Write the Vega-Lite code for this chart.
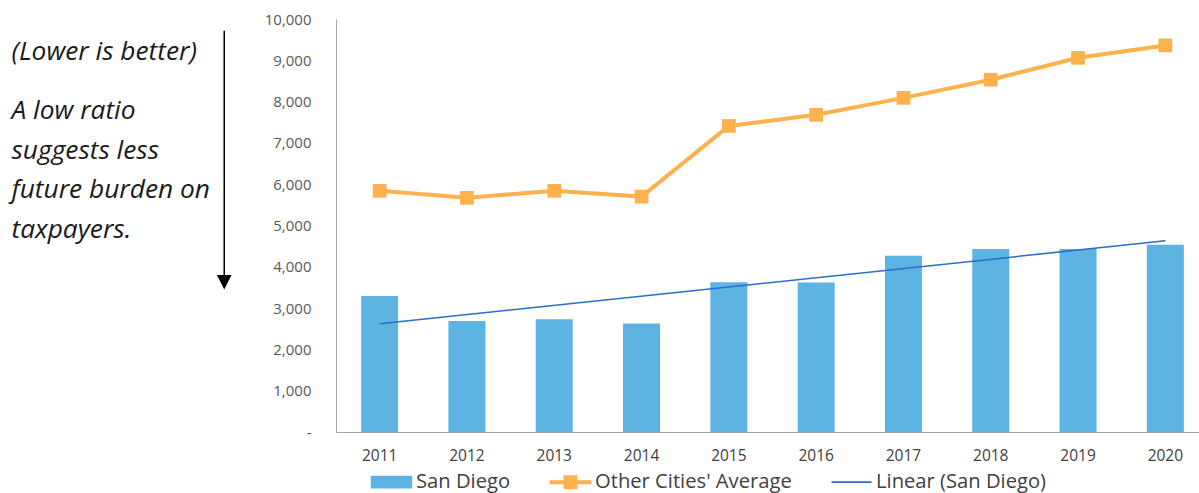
{
  "$schema": "https://vega.github.io/schema/vega-lite/v6.json",
  "autosize": "pad",
  "padding": {"left": 0, "top": 12, "right": 0, "bottom": 0},
  "background": "white",
  "bounds": "flush",
  "spacing": 106,
  "config": {"view": {"stroke": null}, "font": "Open Sans"},
  "datasets": {
    "notes": [
      {"text": "(Lower is better)", "line": 0, "col": 0.05},
      {"text": "A low ratio", "line": 1.5, "col": 0.05},
      {"text": "suggests less", "line": 2.5, "col": 0.05},
      {"text": "future burden on", "line": 3.5, "col": 0.05},
      {"text": "taxpayers.", "line": 4.5, "col": 0.05}
    ],
    "arrow": [{"col": 0.975, "top": -0.742, "bottom": 5.468, "head": 5.628}],
    "ratio": [
      {"Year": 2011, "SanDiego": 3290, "Other": 5840},
      {"Year": 2012, "SanDiego": 2690, "Other": 5670},
      {"Year": 2013, "SanDiego": 2730, "Other": 5840},
      {"Year": 2014, "SanDiego": 2630, "Other": 5700},
      {"Year": 2015, "SanDiego": 3625, "Other": 7410},
      {"Year": 2016, "SanDiego": 3620, "Other": 7680},
      {"Year": 2017, "SanDiego": 4270, "Other": 8090},
      {"Year": 2018, "SanDiego": 4430, "Other": 8530},
      {"Year": 2019, "SanDiego": 4430, "Other": 9060},
      {"Year": 2020, "SanDiego": 4535, "Other": 9360}
    ]
  },
  "hconcat": [
    {
      "width": 230,
      "height": 413,
      "layer": [
        {
          "data": {"name": "notes"},
          "mark": {"type": "text", "align": "left", "baseline": "alphabetic", "font": "Open Sans", "fontStyle": "italic", "fontSize": 26.3, "color": "#1a1a1a"},
          "encoding": {
            "x": {"field": "col", "type": "quantitative", "scale": {"domain": [0, 1], "nice": false, "zero": false}, "axis": null},
            "y": {"field": "line", "type": "quantitative", "scale": {"domain": [-1.038, 9.418], "reverse": true, "nice": false, "zero": false}, "axis": null},
            "text": {"field": "text"}
          }
        },
        {
          "data": {"name": "arrow"},
          "mark": {"type": "rule", "color": "#000000", "strokeWidth": 1.5},
          "encoding": {
            "x": {"field": "col", "type": "quantitative", "scale": {"domain": [0, 1], "nice": false, "zero": false}, "axis": null},
            "y": {"field": "top", "type": "quantitative", "scale": {"domain": [-1.038, 9.418], "reverse": true, "nice": false, "zero": false}, "axis": null},
            "y2": {"field": "bottom"}
          }
        },
        {
          "data": {"name": "arrow"},
          "mark": {"type": "point", "shape": "M-1,-1L1,-1L0,1Z", "filled": true, "color": "#000000", "size": 213, "opacity": 1},
          "encoding": {
            "x": {"field": "col", "type": "quantitative", "scale": {"domain": [0, 1], "nice": false, "zero": false}, "axis": null},
            "y": {"field": "head", "type": "quantitative", "scale": {"domain": [-1.038, 9.418], "reverse": true, "nice": false, "zero": false}, "axis": null}
          }
        }
      ]
    },
    {
      "width": 863,
      "height": 413,
      "data": {"name": "ratio"},
      "encoding": {
        "x": {
          "field": "Year",
          "type": "ordinal",
          "scale": {"type": "band", "range": [0, 873], "paddingInner": 0.576, "paddingOuter": 0.288},
          "axis": {"title": null, "ticks": false, "domainColor": "#a6a6a6", "labelFont": "Open Sans", "labelFontSize": 15.5, "labelColor": "#404040", "labelPadding": 16, "labelAngle": 0}
        }
      },
      "layer": [
        {
          "mark": {"type": "bar"},
          "encoding": {
            "y": {"field": "SanDiego", "type": "quantitative", "scale": {"domain": [0, 10000], "nice": false},
              "axis": {"title": null, "grid": false, "ticks": false, "domainColor": "#a6a6a6", "labelFont": "Open Sans", "labelFontSize": 15, "labelColor": "#595959", "labelPadding": 25, "values": [0, 1000, 2000, 3000, 4000, 5000, 6000, 7000, 8000, 9000, 10000], "labelExpr": "datum.value === 0 ? '-\u00a0\u00a0' : format(datum.value, ',')"}},
            "color": {
              "datum": "San Diego",
              "scale": {"domain": ["San Diego", "Other Cities' Average", "Linear (San Diego)"], "range": ["#5db4e3", "#ffb14e", "#2a6ccf"]},
              "legend": {
                "orient": "none",
                "legendX": 369,
                "legendY": 440.5,
                "direction": "horizontal",
                "title": null,
                "padding": 0,
                "symbolSize": 2025,
                "labelFont": "Open Sans",
                "labelFontSize": 20.2,
                "labelColor": "#404040",
                "labelOffset": 2,
                "labelLimit": 400,
                "columnPadding": 37,
                "symbolStrokeWidth": 0,
                "encode": {
                  "symbols": {
                    "update": {
                      "shape": {"signal": "datum.value === 'San Diego' ? 'M-0.92,-0.28H0.92V0.28H-0.92Z' : datum.value === 'Linear (San Diego)' ? 'M-0.89,-0.035H0.89V0.035H-0.89Z' : 'M-0.93,-0.09H-0.31V-0.31H0.31V-0.09H0.93V0.09H0.31V0.31H-0.31V0.09H-0.93Z'"},
                      "fill": {"scale": "color", "field": "value"},
                      "stroke": {"value": "transparent"},
                      "opacity": {"value": 1}
                    }
                  }
                }
              }
            }
          }
        },
        {
          "mark": {"type": "line", "strokeWidth": 4},
          "encoding": {
            "y": {"field": "Other", "type": "quantitative", "scale": {"domain": [0, 10000], "nice": false},
              "axis": {"title": null, "grid": false, "ticks": false, "domainColor": "#a6a6a6", "labelFont": "Open Sans", "labelFontSize": 15, "labelColor": "#595959", "labelPadding": 25, "values": [0, 1000, 2000, 3000, 4000, 5000, 6000, 7000, 8000, 9000, 10000], "labelExpr": "datum.value === 0 ? '-\u00a0\u00a0' : format(datum.value, ',')"}},
            "color": {"datum": "Other Cities' Average"}
          }
        },
        {
          "mark": {"type": "point", "shape": "square", "filled": true, "size": 188, "opacity": 1},
          "encoding": {
            "y": {"field": "Other", "type": "quantitative", "scale": {"domain": [0, 10000], "nice": false},
              "axis": {"title": null, "grid": false, "ticks": false, "domainColor": "#a6a6a6", "labelFont": "Open Sans", "labelFontSize": 15, "labelColor": "#595959", "labelPadding": 25, "values": [0, 1000, 2000, 3000, 4000, 5000, 6000, 7000, 8000, 9000, 10000], "labelExpr": "datum.value === 0 ? '-\u00a0\u00a0' : format(datum.value, ',')"}},
            "color": {"datum": "Other Cities' Average"}
          }
        },
        {
          "transform": [{"regression": "SanDiego", "on": "Year"}],
          "mark": {"type": "line", "strokeWidth": 1.5},
          "encoding": {
            "y": {"field": "SanDiego", "type": "quantitative", "scale": {"domain": [0, 10000], "nice": false},
              "axis": {"title": null, "grid": false, "ticks": false, "domainColor": "#a6a6a6", "labelFont": "Open Sans", "labelFontSize": 15, "labelColor": "#595959", "labelPadding": 25, "values": [0, 1000, 2000, 3000, 4000, 5000, 6000, 7000, 8000, 9000, 10000], "labelExpr": "datum.value === 0 ? '-\u00a0\u00a0' : format(datum.value, ',')"}},
            "color": {"datum": "Linear (San Diego)"}
          }
        }
      ]
    }
  ]
}
